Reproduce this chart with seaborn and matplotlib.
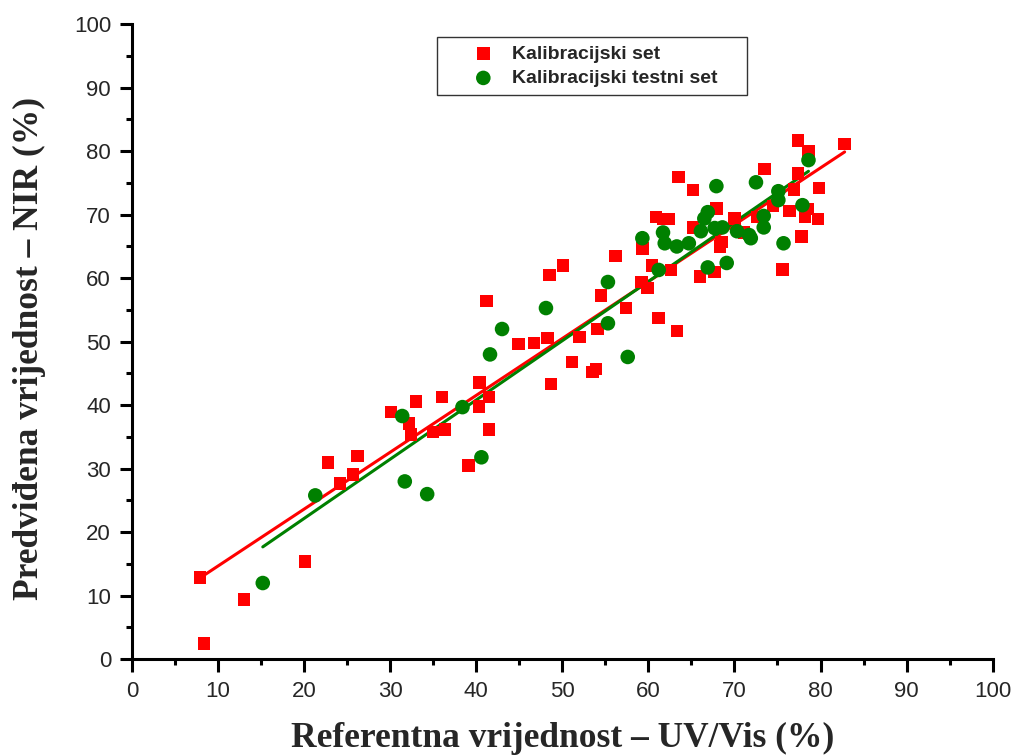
import numpy as np
import pandas as pd
import matplotlib
matplotlib.use("Agg")
import matplotlib.pyplot as plt
import seaborn as sns
from matplotlib.ticker import MultipleLocator

# ---- data ----
cal_x = [7.9, 8.4, 13.0, 20.1, 22.8, 24.2, 25.7, 26.2, 30.1, 32.2, 32.4, 33.0, 35.0, 36.0,
         36.4, 39.1, 40.4, 40.3, 41.2, 41.5, 41.5, 44.9, 46.7, 48.3, 48.5, 48.7, 50.1, 51.1,
         52.0, 53.5, 53.9, 54.1, 54.5, 56.2, 57.4, 59.3, 59.2, 59.9, 60.4, 60.9, 61.2, 61.7,
         62.4, 62.6, 63.3, 63.5, 65.2, 65.2, 66.0, 67.7, 67.9, 68.3, 68.5, 70.0, 71.1, 72.6,
         73.5, 74.5, 75.6, 76.4, 76.9, 77.4, 77.4, 77.8, 78.2, 78.5, 78.6, 79.7, 79.8, 82.8]
cal_y = [12.9, 2.5, 9.4, 15.4, 31.0, 27.7, 29.1, 32.0, 38.9, 37.1, 35.4, 40.6, 35.8, 41.3,
         36.2, 30.5, 43.6, 39.8, 56.4, 41.3, 36.2, 49.6, 49.8, 50.6, 60.5, 43.3, 62.0, 46.8,
         50.7, 45.2, 45.7, 52.0, 57.3, 63.5, 55.3, 64.7, 59.4, 58.5, 62.0, 69.6, 53.7, 69.3,
         69.3, 61.3, 51.7, 75.9, 73.9, 68.0, 60.3, 61.0, 71.0, 65.0, 65.7, 69.4, 67.2, 69.6,
         77.2, 71.4, 61.4, 70.6, 74.0, 81.7, 76.5, 66.6, 69.6, 70.9, 80.0, 69.3, 74.2, 81.1]

test_x = [15.2, 21.3, 31.4, 31.7, 34.3, 38.4, 40.6, 41.6, 43.0, 48.1, 55.3, 55.3, 57.6,
          59.3, 61.2, 61.7, 61.9, 63.3, 64.7, 66.1, 66.5, 66.9, 66.9, 67.7, 67.9, 68.6,
          69.1, 70.3, 71.7, 71.9, 72.5, 73.4, 73.4, 75.1, 75.1, 75.7, 77.9, 78.6]
test_y = [12.0, 25.8, 38.3, 28.0, 26.0, 39.7, 31.8, 48.0, 52.0, 55.3, 59.4, 52.9, 47.6,
          66.3, 61.3, 67.2, 65.5, 65.0, 65.5, 67.4, 69.4, 70.4, 61.7, 67.9, 74.5, 68.0,
          62.4, 67.4, 66.8, 66.3, 75.1, 69.8, 68.0, 73.7, 72.3, 65.5, 71.5, 78.6]

labels = ["Kalibracijski set", "Kalibracijski testni set"]
x_label = "Referentna vrijednost \u2013 UV/Vis (%)"
y_label = "Predvi\u0111ena vrijednost \u2013 NIR (%)"

cal = pd.DataFrame({"x": cal_x, "y": cal_y})
tst = pd.DataFrame({"x": test_x, "y": test_y})

sns.set_style("white")
plt.rcParams["font.family"] = ["Liberation Sans", "DejaVu Sans"]

fig = plt.figure(figsize=(10.15, 7.56), dpi=100)
ax = fig.add_axes([0.130, 0.128, 0.848, 0.840])

sns.regplot(data=cal, x="x", y="y", scatter=False, ci=None, ax=ax,
            line_kws=dict(color="red", lw=2.2, zorder=2))
sns.regplot(data=tst, x="x", y="y", scatter=False, ci=None, ax=ax,
            line_kws=dict(color="green", lw=2.2, zorder=2))
sns.scatterplot(data=cal, x="x", y="y", marker="s", s=80, color="red",
                edgecolor="none", ax=ax, label=labels[0], zorder=3)
sns.scatterplot(data=tst, x="x", y="y", marker="o", s=110, color="green",
                edgecolor="none", ax=ax, label=labels[1], zorder=3)

ax.set_xlim(0, 100)
ax.set_ylim(0, 100)
ax.xaxis.set_major_locator(MultipleLocator(10))
ax.yaxis.set_major_locator(MultipleLocator(10))
ax.xaxis.set_minor_locator(MultipleLocator(5))
ax.yaxis.set_minor_locator(MultipleLocator(5))
ax.tick_params(which="major", direction="out", length=9, width=2.2,
               labelsize=16, bottom=True, left=True, color="black")
ax.tick_params(which="minor", direction="out", length=4.5, width=2.2,
               bottom=True, left=True, color="black")
ax.tick_params(axis="y", which="major", pad=6)
ax.tick_params(axis="x", which="major", pad=7)
for s in ["top", "right"]:
    ax.spines[s].set_visible(False)
for s in ["left", "bottom"]:
    ax.spines[s].set_linewidth(2.2)
    ax.spines[s].set_color("black")

ax.set_xlabel(x_label, fontsize=25.5, fontweight="bold",
              family=["Liberation Serif", "DejaVu Serif"], labelpad=14)
ax.set_ylabel(y_label, fontsize=25.5, fontweight="bold",
              family=["Liberation Serif", "DejaVu Serif"])
ax.yaxis.set_label_coords(-0.100, 0.49)

leg = ax.legend(loc="upper left", bbox_to_anchor=(0.354, 0.9595, 0.361, 0.02),
                mode="expand", frameon=True, fancybox=False,
                prop=dict(size=14, weight="bold"),
                borderpad=0.4, handlelength=4.0, handletextpad=-0.5,
                labelspacing=0.35, borderaxespad=0)
leg.get_frame().set_edgecolor("black")
leg.get_frame().set_linewidth(1.0)

fig.savefig("out.png", dpi=100)
